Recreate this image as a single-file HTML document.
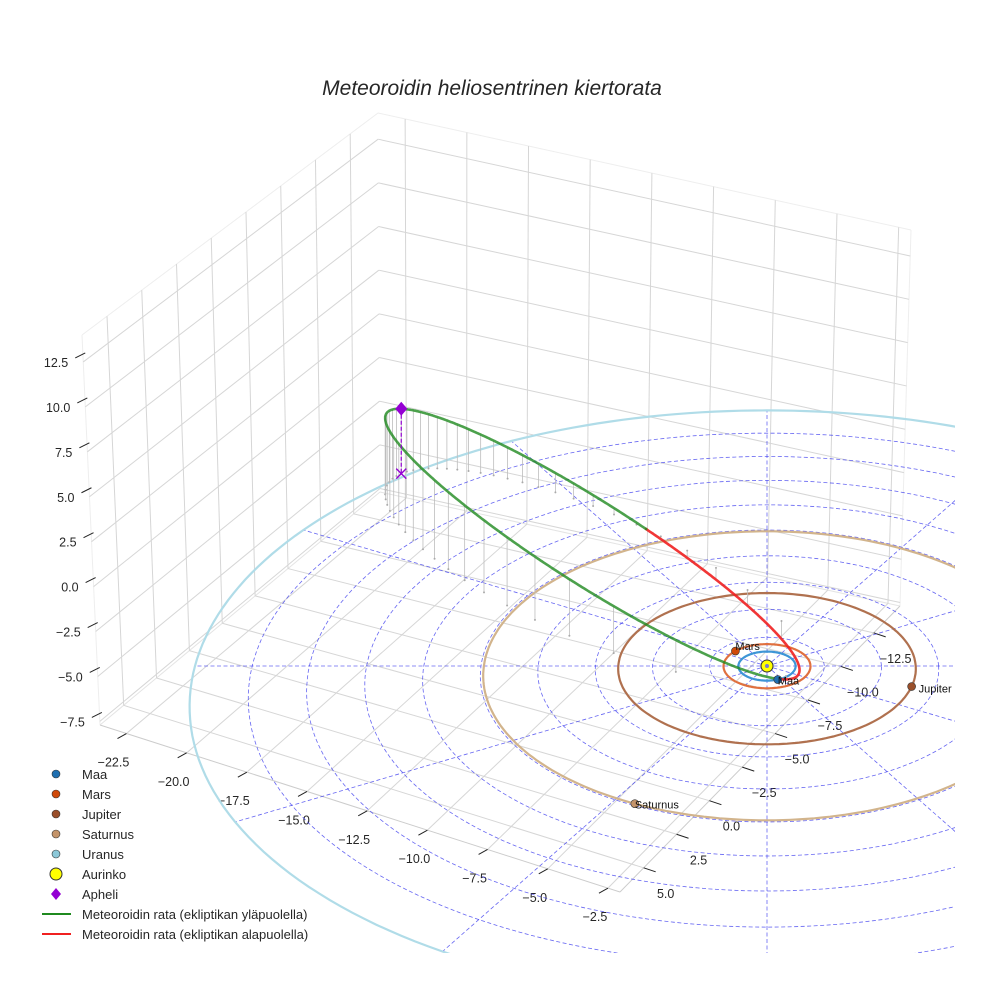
<!DOCTYPE html>
<html>
<head>
<meta charset="utf-8">
<style>
  html,body{margin:0;padding:0;background:#fff;}
  svg{display:block;font-family:"Liberation Sans",Arial,sans-serif;}
</style>
</head>
<body>
<svg id="chart" width="984" height="984" viewBox="0 0 984 984" xmlns="http://www.w3.org/2000/svg">
  <defs>
    <clipPath id="axclip"><rect x="0" y="0" width="955" height="953"/></clipPath>
  </defs>
  <text x="492" y="95" text-anchor="middle" font-size="21" font-style="italic" fill="#262626">Meteoroidin heliosentrinen kiertorata</text>
  <g id="box"></g>
  <g id="ecl" clip-path="url(#axclip)"></g>
  <g id="legend"></g>
</svg>
<script>
// ---- data ----
const xTicks = [-22.5,-20.0,-17.5,-15.0,-12.5,-10.0,-7.5,-5.0,-2.5];
const yTicks = [-12.5,-10.0,-7.5,-5.0,-2.5,0.0,2.5,5.0];
const zTicks = [-7.5,-5.0,-2.5,0.0,2.5,5.0,7.5,10.0,12.5];
const xRange = [-23.6,-2.0];
const yRange = [-14.5,6.8];
const zRange = [-7.7,14.0];
const planetNames = ['Maa','Mars','Jupiter','Saturnus','Uranus'];
const planetRadii = [1.0,1.52,5.2,9.9,20.0];
const planetAngles = [-68,137,-15.6,244,285];
const gridRadii = [2,4,6,8,10,12,14,16,18,20];
const gridAngles = [0,30,60,90,120,150,180,210,240,270,300,330];
const meteorSemiMajor = [10.6];
const meteorEcc = [0.91];
const meteorPeriLon = [-46];
const meteorTilt = [-0.22,-0.52];

const NS='http://www.w3.org/2000/svg';
function mk(parent,tag,attrs){const e=document.createElementNS(NS,tag);for(const k in attrs)e.setAttribute(k,attrs[k]);parent.appendChild(e);return e;}

// ---- box (trilinear corners) ----
const C={
 '000':[100,725],'100':[620,892],'110':[900,606],'010':[380,492],
 '001':[82,335],'101':[622,482],'111':[911,230],'011':[378,113]};
function lerp(a,b,t){return [a[0]+(b[0]-a[0])*t,a[1]+(b[1]-a[1])*t];}
function T(u,v,w){
 const b=lerp(lerp(C['000'],C['100'],u),lerp(C['010'],C['110'],u),v);
 const t=lerp(lerp(C['001'],C['101'],u),lerp(C['011'],C['111'],u),v);
 return lerp(b,t,w);}
const ux=x=>(x-xRange[0])/(xRange[1]-xRange[0]);
const vy=y=>(yRange[1]-y)/(yRange[1]-yRange[0]);
const wz=z=>(z-zRange[0])/(zRange[1]-zRange[0]);
const box=document.getElementById('box');
function seg(p,q,stroke,w,name){const l=mk(box,'line',{x1:p[0],y1:p[1],x2:q[0],y2:q[1],stroke:stroke,'stroke-width':w});
 
 return l;}
const gc='#d6d6d6';
// pane edges
seg(T(0,0,0),T(0,1,0),'#e4e4e4',1,'pane-edge');seg(T(0,1,0),T(1,1,0),'#e4e4e4',1,'pane-edge');
seg(T(0,0,1),T(0,1,1),'#eeeeee',1,'pane-edge');seg(T(0,1,1),T(1,1,1),'#eeeeee',1,'pane-edge');
seg(T(1,1,0),T(1,1,1),'#eeeeee',1,'pane-edge');seg(T(0,0,0),T(0,0,1),'#eeeeee',1,'pane-edge');
seg(T(0,0,0),T(1,0,0),'#cccccc',1,'x-axis-line');seg(T(1,0,0),T(1,1,0),'#cccccc',1,'y-axis-line');
xTicks.forEach(x=>{const u=ux(x);
 seg(T(u,0,0),T(u,1,0),gc,1,'floor-grid-x');seg(T(u,1,0),T(u,1,1),gc,1,'back-grid-x');
 const e=T(u,0,0);seg(e,[e[0]-9,e[1]+5],'#222',1,'x-tick');
 const t=mk(box,'text',{x:e[0]-13,y:e[1]+33,'text-anchor':'middle','font-size':12.5,fill:'#262626'});
 
 
 t.textContent=x.toFixed(1).replace('-','\u2212');});
yTicks.forEach(y=>{const v=vy(y);
 seg(T(0,v,0),T(1,v,0),gc,1,'floor-grid-y');seg(T(0,v,0),T(0,v,1),gc,1,'left-grid-y');
 const e=T(1,v,0);seg(e,[e[0]+12,e[1]+4],'#222',1,'y-tick');
 const t=mk(box,'text',{x:e[0]+22,y:e[1]+30,'text-anchor':'middle','font-size':12.5,fill:'#262626'});
 
 
 t.textContent=y.toFixed(1).replace('-','\u2212');});
zTicks.forEach(z=>{const w=wz(z);
 seg(T(0,0,w),T(0,1,w),gc,1,'left-grid-z');seg(T(0,1,w),T(1,1,w),gc,1,'back-grid-z');
 const e=T(0,0,w);seg([e[0]+2,e[1]-9],[e[0]-8,e[1]-4],'#222',1,'z-tick');
 const t=mk(box,'text',{x:e[0]-15,y:e[1]+5,'text-anchor':'end','font-size':12.5,fill:'#262626'});
 
 
 t.textContent=z.toFixed(1).replace('-','\u2212');});

// ---- ecliptic projection ----
function P(a,d,z){const f=1/(1+0.00685*d);return [767+28.6*a*f,666-14.53*d*f-16*z*f];}
const ecl=document.getElementById('ecl');
function polar(r,deg){const t=deg*Math.PI/180;return [r*Math.cos(t),r*Math.sin(t)];}
function circlePts(r){const pts=[];for(let i=0;i<=240;i++){const q=polar(r,i*1.5);pts.push(P(q[0],q[1],0));}return pts;}
function pl(pts){return pts.map(p=>p[0].toFixed(1)+','+p[1].toFixed(1)).join(' ');}
gridRadii.forEach(r=>{const e=mk(ecl,'polyline',{points:pl(circlePts(r)),fill:'none',stroke:'#3333ee','stroke-opacity':0.75,'stroke-width':0.8,'stroke-dasharray':'4,2.5'});
 
 });
gridAngles.forEach(a=>{const q=polar(gridRadii[gridRadii.length-1],a);const p0=P(0,0,0),p1=P(q[0],q[1],0);
 const e=mk(ecl,'line',{x1:p0[0],y1:p0[1],x2:p1[0],y2:p1[1],stroke:'#3333ee','stroke-opacity':0.75,'stroke-width':0.8,'stroke-dasharray':'4,2.5'});
 
 });

const orbitColors=['#3d95d6','#e0703f','#b0714f','#d2b48c','#b0dce8'];
const markerColors=['#1f6fb0','#d04a0a','#9a4f2a','#c4946a','#8cc8d8'];
planetRadii.forEach((r,i)=>{const e=mk(ecl,'polyline',{points:pl(circlePts(r)),fill:'none',stroke:orbitColors[i],'stroke-width':2.2});
 
 });

// meteoroid orbit
const A=meteorSemiMajor[0],ecc=meteorEcc[0],phi=meteorPeriLon[0]*Math.PI/180;
const bAx=A*Math.sqrt(1-ecc*ecc),pz=meteorTilt[0],sq=meteorTilt[1],ci=Math.sqrt(1-sq*sq);
const Ph=[Math.cos(phi),Math.sin(phi),pz],Qh=[Math.cos(phi+Math.PI/2)*ci,Math.sin(phi+Math.PI/2)*ci,sq];
function pos(E){const c=A*(Math.cos(E)-ecc),s=bAx*Math.sin(E);return [c*Ph[0]+s*Qh[0],c*Ph[1]+s*Qh[1],c*Ph[2]+s*Qh[2]];}
// drop lines (uniform in mean anomaly)
for(let k=0;k<48;k++){const M=-Math.PI+k*2*Math.PI/48;let E=M;for(let j=0;j<30;j++)E=E-(E-ecc*Math.sin(E)-M)/(1-ecc*Math.cos(E));
 const q=pos(E);const p1=P(q[0],q[1],q[2]),p0=P(q[0],q[1],0);
 const l=mk(ecl,'line',{x1:p1[0],y1:p1[1],x2:p0[0],y2:p0[1],stroke:'#bdbdbd','stroke-width':0.8});
 
 
 const d=mk(ecl,'circle',{cx:p0[0],cy:p0[1],r:1,fill:'#aaa'});
 
 }
// orbit segments split by z sign
let cur=[],curSign=null;const segs=[];
for(let i=0;i<=900;i++){const E=-Math.PI+i*2*Math.PI/900;const q=pos(E);const sgn=q[2]>=0;const p=P(q[0],q[1],q[2]);
 if(curSign===null||sgn===curSign){cur.push(p);}else{cur.push(p);segs.push([curSign,cur]);cur=[p];}
 curSign=sgn;}
segs.push([curSign,cur]);
segs.forEach(s=>{const e=mk(ecl,'polyline',{points:pl(s[1]),fill:'none',stroke:s[0]?'#1f8a1f':'#f02020','stroke-opacity':s[0]?0.8:0.9,'stroke-width':2.6,'stroke-linecap':'round'});
 
 });

// aphelion
const ap=pos(Math.PI),apS=P(ap[0],ap[1],ap[2]),ap0=P(ap[0],ap[1],0);
const apl=mk(ecl,'line',{x1:apS[0],y1:apS[1],x2:ap0[0],y2:ap0[1],stroke:'#9400d3','stroke-width':1.2,'stroke-dasharray':'4,2'});


const apx=mk(ecl,'path',{d:`M${ap0[0]-5},${ap0[1]-5}L${ap0[0]+5},${ap0[1]+5}M${ap0[0]-5},${ap0[1]+5}L${ap0[0]+5},${ap0[1]-5}`,stroke:'#9400d3','stroke-width':1.4});


const apd=mk(ecl,'path',{d:`M${apS[0]},${apS[1]-7}L${apS[0]+6},${apS[1]}L${apS[0]},${apS[1]+7}L${apS[0]-6},${apS[1]}Z`,fill:'#9400d3'});



// sun
const sp=P(0,0,0);
const sun=mk(ecl,'circle',{cx:sp[0],cy:sp[1],r:6,fill:'#ffff00',stroke:'#333','stroke-width':1});


const sunc=mk(ecl,'circle',{cx:sp[0],cy:sp[1],r:2,fill:'#7777cc'});



// planets
planetNames.forEach((n,i)=>{const q=polar(planetRadii[i],planetAngles[i]);const p=P(q[0],q[1],0);
 const c=mk(ecl,'circle',{cx:p[0],cy:p[1],r:4,fill:markerColors[i],stroke:'#333','stroke-width':0.6});
 
 
 const t=mk(ecl,'text',{x:p[0]+(i===2?7:0),y:p[1]+(i===2?6:(i===1?-1:5)),'font-size':11,fill:'#111'});
 
 
 t.textContent=n;});

// legend
const lg=document.getElementById('legend');
const legendLabels=['Maa','Mars','Jupiter','Saturnus','Uranus','Aurinko','Apheli','Meteoroidin rata (ekliptikan yläpuolella)','Meteoroidin rata (ekliptikan alapuolella)'];
legendLabels.forEach((lab,i)=>{const y=774+i*20;let m;
 if(i<5){m=mk(lg,'circle',{cx:56,cy:y,r:4,fill:markerColors[i],stroke:'#333','stroke-width':0.6});}
 else if(i===5){m=mk(lg,'circle',{cx:56,cy:y,r:6,fill:'#ffff00',stroke:'#333','stroke-width':1});}
 else if(i===6){m=mk(lg,'path',{d:`M56,${y-6}L61,${y}L56,${y+6}L51,${y}Z`,fill:'#9400d3'});}
 else{m=mk(lg,'line',{x1:42,y1:y,x2:71,y2:y,stroke:i===7?'#1f8a1f':'#f02020','stroke-width':2});}
 
 
 const t=mk(lg,'text',{x:82,y:y+5,'font-size':13,fill:'#262626'});
 
 
 t.textContent=lab;});
</script>
</body>
</html>
